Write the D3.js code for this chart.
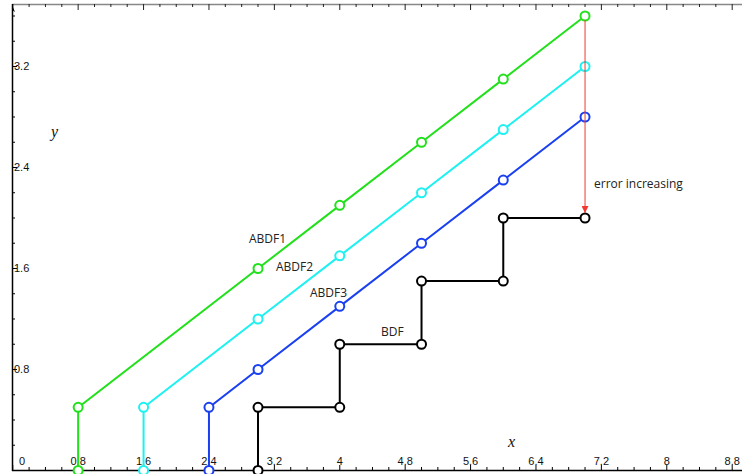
<!DOCTYPE html>
<html>
<head>
<meta charset="utf-8">
<script src="https://cdn.jsdelivr.net/npm/d3@7"></script>
<style>
  body { margin: 0; background: #fff; }
  .tick-lbl { font-family: "Liberation Sans", Arial, sans-serif; font-size: 11px; fill: #111; }
  .lbl { font-family: "Open Sans", "Liberation Sans", sans-serif; font-size: 12px; fill: #222; }
  .ttl { font-family: "Liberation Serif", serif; font-style: italic; font-size: 16px; fill: #111; }
</style>
</head>
<body>
<svg id="chart" width="742" height="474"></svg>
<script>
// data
const bdfX  = [3, 3, 4, 4, 5, 5, 6, 6, 7];
const bdfY  = [0, 0.5, 0.5, 1, 1, 1.5, 1.5, 2, 2];
const abdf1X = [0.8, 0.8, 3, 4, 5, 6, 7];
const abdf1Y = [0, 0.5, 1.6, 2.1, 2.6, 3.1, 3.6];
const abdf2X = [1.6, 1.6, 3, 4, 5, 6, 7];
const abdf2Y = [0, 0.5, 1.2, 1.7, 2.2, 2.7, 3.2];
const abdf3X = [2.4, 2.4, 3, 4, 5, 6, 7];
const abdf3Y = [0, 0.5, 0.8, 1.3, 1.8, 2.3, 2.8];
const xTicks = [0, 0.8, 1.6, 2.4, 3.2, 4, 4.8, 5.6, 6.4, 7.2, 8, 8.8];
const yTicks = [0.8, 1.6, 2.4, 3.2];

const series = [
  {name: "ABDF1", xs: abdf1X, ys: abdf1Y, color: "#22e01c", lx: 249, ly: 243},
  {name: "ABDF2", xs: abdf2X, ys: abdf2Y, color: "#1ff0f0", lx: 276, ly: 271},
  {name: "ABDF3", xs: abdf3X, ys: abdf3Y, color: "#1a40f0", lx: 310, ly: 297},
  {name: "BDF",   xs: bdfX,   ys: bdfY,   color: "#000000", lx: 381, ly: 336}
];

const svg = d3.select("#chart");
const x = d3.scaleLinear().domain([0, 8.92]).range([12.75, 742]);
const y = d3.scaleLinear().domain([0, 3.695]).range([470.5, 4]);

const minor = d3.range(0, 8.95, 0.2);
const minorY = d3.range(0, 3.7, 0.2);
const isMajor = v => Math.abs(v / 0.8 - Math.round(v / 0.8)) < 1e-6;

// frame top line (gray) with ticks
svg.append("line").attr("x1", 12).attr("x2", 742).attr("y1", 4.5).attr("y2", 4.5)
  .attr("stroke", "#888").attr("stroke-width", 1.5);
svg.selectAll(".ttick").data(minor).join("line")
  .attr("x1", d => x(d)).attr("x2", d => x(d))
  .attr("y1", 4).attr("y2", d => isMajor(d) ? 10 : 7)
  .attr("stroke", "#222").attr("stroke-width", 1);

// x axis
svg.append("line").attr("x1", 12).attr("x2", 742).attr("y1", 470.5).attr("y2", 470.5)
  .attr("stroke", "#000").attr("stroke-width", 1.5);
svg.selectAll(".xtick").data(minor).join("line")
  .attr("x1", d => x(d)).attr("x2", d => x(d))
  .attr("y1", 470).attr("y2", d => isMajor(d) ? 465 : 467)
  .attr("stroke", "#000").attr("stroke-width", 1);
svg.selectAll(".xlab").data(xTicks).join("text")
  .attr("class", "tick-lbl")
  .attr("x", d => d === 0 ? 22 : x(d))
  .attr("y", 465)
  .attr("text-anchor", "middle")
  .text(d => d);

// y axis
svg.append("line").attr("x1", 12.5).attr("x2", 12.5).attr("y1", 4).attr("y2", 471)
  .attr("stroke", "#000").attr("stroke-width", 1.5);
svg.append("path").attr("d", "M12,5 L15,12 L12,10 Z").attr("fill", "#000");
svg.selectAll(".ytick").data(minorY.filter(d => d > 0)).join("line")
  .attr("x1", 12).attr("x2", d => isMajor(d) ? 17 : 15)
  .attr("y1", d => y(d)).attr("y2", d => y(d))
  .attr("stroke", "#000").attr("stroke-width", 1);
svg.selectAll(".ylab").data(yTicks).join("text")
  .attr("class", "tick-lbl")
  .attr("x", 14).attr("y", d => y(d) + 4)
  .text(d => d);

// axis titles
svg.append("text").attr("class", "ttl").attr("x", 51).attr("y", 137).text("y");
svg.append("text").attr("class", "ttl").attr("x", 508).attr("y", 447).text("x");

// series
const line = d3.line().x(d => x(d[0])).y(d => y(d[1]));
series.forEach(s => {
  const pts = s.xs.map((v, i) => [v, s.ys[i]]);
  const g = svg.append("g");
  g.append("path").attr("d", line(pts)).attr("fill", "none")
    .attr("stroke", s.color).attr("stroke-width", 2);
  g.selectAll("circle").data(pts).join("circle")
    .attr("cx", d => x(d[0])).attr("cy", d => y(d[1])).attr("r", 4.5)
    .attr("fill", "#fff").attr("stroke", s.color).attr("stroke-width", 2);
  svg.append("text").attr("class", "lbl").attr("x", s.lx).attr("y", s.ly).text(s.name);
});

// error arrow
svg.append("defs").append("marker").attr("id", "arr")
  .attr("viewBox", "0 0 10 10").attr("refX", 10).attr("refY", 5)
  .attr("markerWidth", 7).attr("markerHeight", 7).attr("orient", "auto")
  .attr("markerUnits", "userSpaceOnUse")
  .append("path").attr("d", "M0,0 L10,5 L0,10 Z").attr("fill", "#f03a30");
svg.append("line").attr("x1", x(7)).attr("x2", x(7))
  .attr("y1", y(3.6) + 4).attr("y2", y(2) - 5)
  .attr("stroke", "#f03a30").attr("stroke-width", 1).attr("marker-end", "url(#arr)");
svg.append("text").attr("class", "lbl").attr("x", 594).attr("y", 188).text("error increasing");
</script>
</body>
</html>
